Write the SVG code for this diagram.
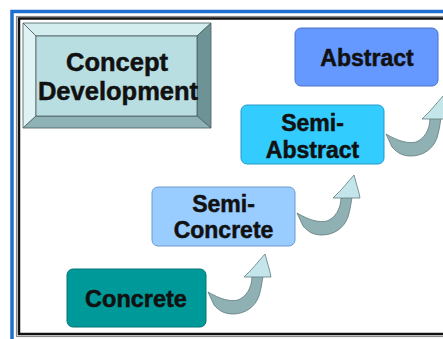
<svg xmlns="http://www.w3.org/2000/svg" width="443" height="339" viewBox="0 0 443 339">
<defs>
<style>
.lbl{font-family:"Liberation Sans",Arial,sans-serif;font-weight:bold;fill:#111;stroke:#111;stroke-width:0.5;text-anchor:middle}
.box{stroke-width:1}
.shaft{fill:#8FB1B3;stroke:#5F7B7D;stroke-width:0.8;stroke-linejoin:round}
.head{fill:#C4E6EA;stroke:#5F7B7D;stroke-width:0.8;stroke-linejoin:round}
.bev{stroke:#4A5C5E;stroke-width:0.8;stroke-linejoin:round}
</style>
<g id="curvedArrow">
<path class="shaft" d="M0,0 L6,13 C12,20 18,22 25,22 C37,22 47,15 51,4 C53,-3 54,-9 55,-16 L44,-16 C44,-4 38,5 30,8 C22,10 12,7 0,0 Z"/>
<path class="head" d="M36,-15 L44,-23 L57,-38 L62,-20 L63,-15 Z"/>
</g>
</defs>
<rect width="443" height="339" fill="#ffffff"/>
<g id="frame" fill="none">
<rect x="12" y="11.5" width="460" height="360" stroke="#1F6FD0" stroke-width="3.5"/>
<rect x="16.5" y="16.5" width="460" height="320" stroke="#8a8a8a" stroke-width="1.2"/>
<rect x="19" y="18.5" width="460" height="315.5" stroke="#111" stroke-width="2.5"/>
</g>
<g id="concept-development">
<polygon class="bev" points="23,23 211,23 197,36 36,36" fill="#D3EDEF"/>
<polygon class="bev" points="23,23 36,36 36,116 23,128" fill="#E0F3F4"/>
<polygon class="bev" points="211,23 211,128 197,116 197,36" fill="#6E9396"/>
<polygon class="bev" points="23,128 211,128 197,116 36,116" fill="#8EB2B5"/>
<rect class="bev" x="36" y="36" width="161" height="80" fill="#B8DEE2"/>
<text class="lbl" x="117" y="71" font-size="25.5">Concept</text>
<text class="lbl" x="118" y="99.5" font-size="25.5">Development</text>
</g>
<g id="abstract">
<rect class="box" x="295" y="28" width="143" height="58" rx="6" fill="#6699FF" stroke="#4A72C8"/>
<text class="lbl" x="367" y="66" font-size="23">Abstract</text>
</g>
<g id="semi-abstract">
<rect class="box" x="241" y="105" width="143" height="59" rx="6" fill="#33CCFF" stroke="#2299C8"/>
<text class="lbl" x="312.5" y="131" font-size="23">Semi-</text>
<text class="lbl" x="312.5" y="158" font-size="23">Abstract</text>
</g>
<g id="semi-concrete">
<rect class="box" x="152" y="187" width="143" height="59" rx="6" fill="#99CCFF" stroke="#6A9ACC"/>
<text class="lbl" x="223.5" y="212" font-size="23">Semi-</text>
<text class="lbl" x="223.5" y="238" font-size="23">Concrete</text>
</g>
<g id="concrete">
<rect class="box" x="67" y="269" width="139" height="58" rx="6" fill="#009999" stroke="#007474"/>
<text class="lbl" x="136" y="307" font-size="23.5">Concrete</text>
</g>
<g id="connectors">
<use href="#curvedArrow" transform="translate(208,292)"/>
<use href="#curvedArrow" transform="translate(297,213)"/>
<use href="#curvedArrow" transform="translate(386,134)"/>
</g>
</svg>
